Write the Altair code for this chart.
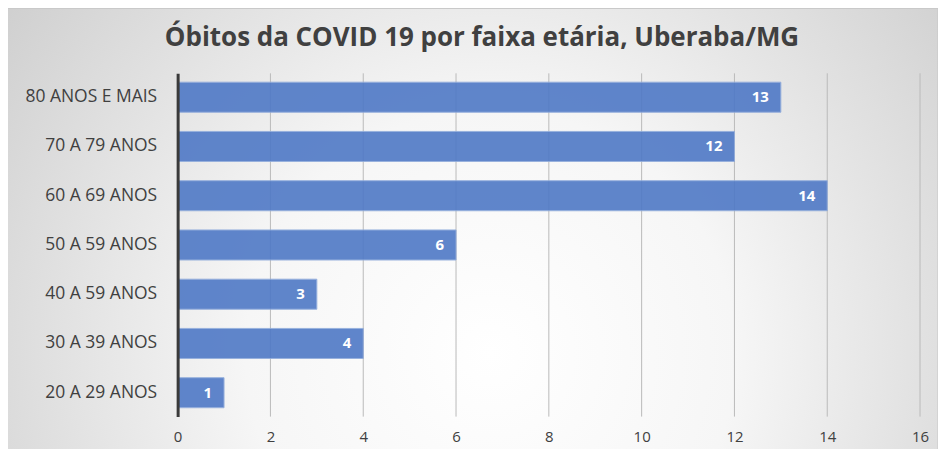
import altair as alt
import pandas as pd

categories = ["80 ANOS E MAIS", "70 A 79 ANOS", "60 A 69 ANOS", "50 A 59 ANOS",
              "40 A 59 ANOS", "30 A 39 ANOS", "20 A 29 ANOS"]
values = [13, 12, 14, 6, 3, 4, 1]
grid_ticks = [0, 2, 4, 6, 8, 10, 12, 14, 16]
title_text = ["Óbitos da COVID 19 por faixa etária, Uberaba/MG"]

df = pd.DataFrame({"faixa": categories, "obitos": values})
grid_df = pd.DataFrame({"t": grid_ticks[1:]})
title_df = pd.DataFrame({"title": title_text})

W, H = 744, 344
PL, PT, PR, PB = 170, 65, 18, 32
FONT = "Open Sans"

xscale = alt.Scale(domain=[0, 16], nice=False, zero=True)
yscale = alt.Scale(paddingInner=0.39, paddingOuter=0.18)

bg = alt.Chart(pd.DataFrame({"a": [0]})).mark_rect(
    fill={
        "gradient": "radial",
        "x1": 0.52, "y1": 0.62, "r1": 0,
        "x2": 0.52, "y2": 0.62, "r2": 0.75,
        "stops": [
            {"offset": 0, "color": "#ffffff"},
            {"offset": 0.35, "color": "#f6f6f6"},
            {"offset": 1, "color": "#c4c4c4"},
        ],
    },
    stroke="#c8c8c8",
    strokeWidth=1,
).encode(
    x=alt.value(-PL - 2), x2=alt.value(W + PR),
    y=alt.value(-PT), y2=alt.value(H + 60),
)

title = alt.Chart(title_df).mark_text(
    align="center", baseline="middle", font=FONT, fontSize=26,
    fontWeight="bold", color="#404040"
).encode(
    x=alt.value(W / 2 - 67), y=alt.value(-35), text="title:N"
)

grid = alt.Chart(grid_df).mark_rule(color="#bababa", strokeWidth=1).encode(
    x=alt.X("t:Q", scale=xscale),
    y=alt.value(0), y2=alt.value(H),
)

bars = alt.Chart(df).mark_bar(
    color="#4f79c6", opacity=0.9, stroke="#8eaadb", strokeWidth=1
).encode(
    x=alt.X("obitos:Q", scale=xscale,
            axis=alt.Axis(values=grid_ticks, grid=False, domain=False, ticks=False,
                          labelFont=FONT, labelFontSize=15, labelColor="#404040",
                          labelPadding=13, labelFlush=False, title=None, zindex=1)),
    y=alt.Y("faixa:N", sort=categories, scale=yscale,
            axis=alt.Axis(domain=True, domainColor="#3a3a3a", domainWidth=3,
                          ticks=False, labelFont=FONT, labelFontSize=17.5,
                          labelColor="#404040", labelPadding=21, title=None,
                          zindex=1)),
)

labels = alt.Chart(df).mark_text(
    align="right", baseline="middle", dx=-12, color="white",
    font=FONT, fontSize=15, fontWeight="bold"
).encode(
    x=alt.X("obitos:Q", scale=xscale),
    y=alt.Y("faixa:N", sort=categories, scale=yscale),
    text="obitos:Q",
)

chart = alt.layer(bg, title, grid, bars, labels).properties(
    width=W, height=H,
    autosize=alt.AutoSizeParams(type="none"),
    padding={"left": PL, "top": PT, "right": PR, "bottom": PB},
).configure_view(stroke=None).configure(background="white")

chart.save("out.html", embed_options={"renderer": "svg", "actions": False})
